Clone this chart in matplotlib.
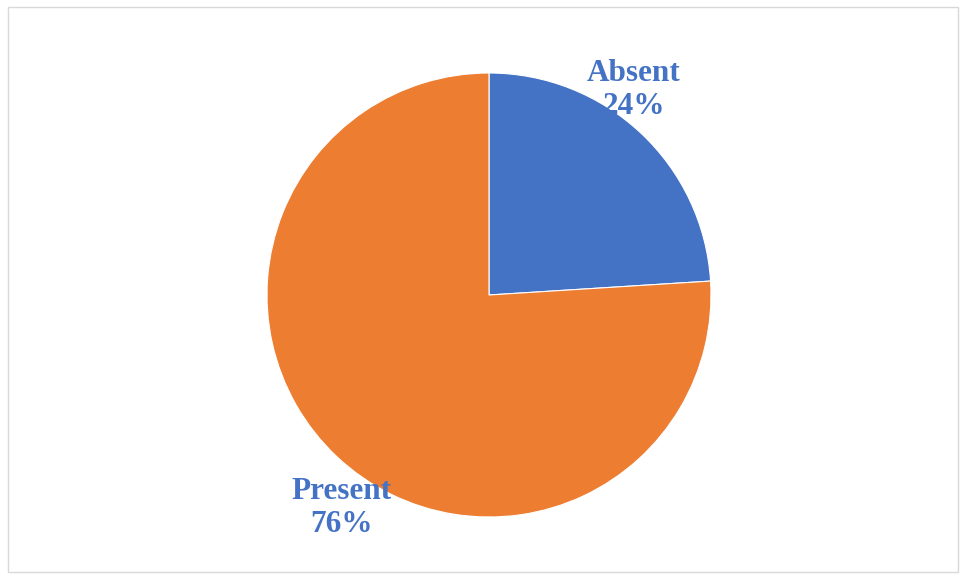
import matplotlib
matplotlib.use("Agg")
import matplotlib.pyplot as plt
from matplotlib.patches import Rectangle

categories = ["Absent", "Present"]
values = [24, 76]
colors = ["#4472C4", "#ED7D31"]

W, H = 961, 580
fig = plt.figure(figsize=(W / 100, H / 100), dpi=100)
fig.patch.set_facecolor("white")

# chart frame
fig.patches.append(Rectangle((8 / W, 1 - 572 / H), 950 / W, 565 / H,
                             transform=fig.transFigure, fill=False,
                             edgecolor="#d9d9d9", linewidth=1.0))

cx, cy, r = 489, 295, 222
ax = fig.add_axes([(cx - r) / W, (H - cy - r) / H, 2 * r / W, 2 * r / H])
ax.pie(values, colors=colors, startangle=90, counterclock=False, radius=1,
       wedgeprops=dict(edgecolor="white", linewidth=0.8))
ax.set_xlim(-1, 1)
ax.set_ylim(-1, 1)
ax.set_aspect("auto")
ax.axis("off")

label_pos = {"Absent": (634, 90), "Present": (341, 508)}
for cat, v in zip(categories, values):
    px, py = label_pos[cat]
    ax.text((px - cx) / r, (cy - py) / r, f"{cat}\n{v}%", ha="center", va="center",
            fontsize=22.5, fontweight="bold", family="Liberation Serif",
            color="#4472C4", linespacing=1.18)

fig.savefig("out.png", dpi=100)
